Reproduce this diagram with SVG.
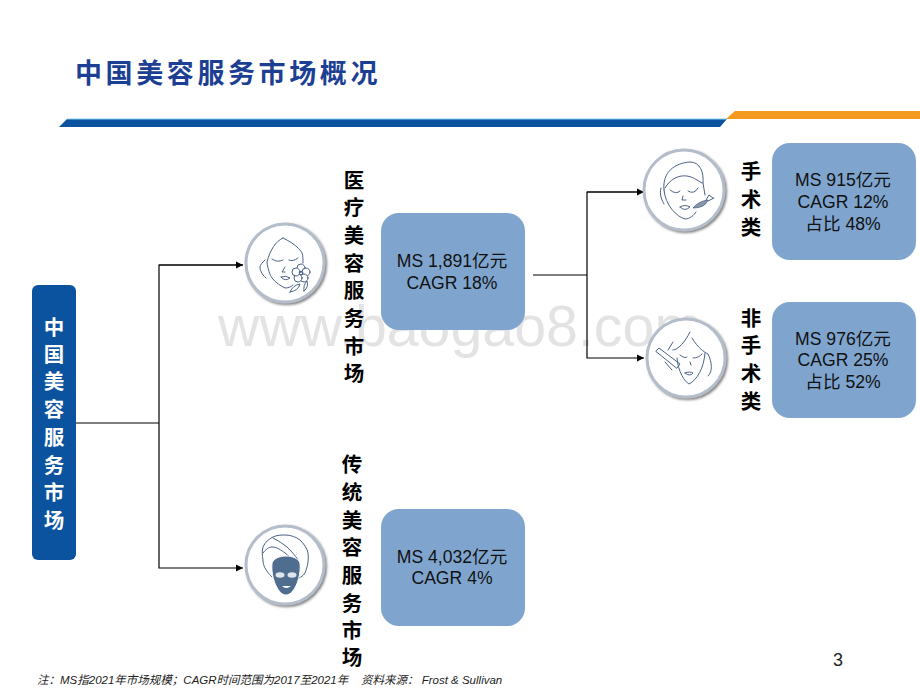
<svg xmlns="http://www.w3.org/2000/svg" width="920" height="690" viewBox="0 0 920 690">
<style>
text{font-family:"Liberation Sans","Noto Sans CJK SC",sans-serif}
.cjk{font-family:"Noto Sans CJK SC",sans-serif;font-weight:700;font-size:20.5px;text-anchor:middle;fill:#000}
.box{fill:#7fa5cf}
.val{font-size:17.6px;text-anchor:middle;fill:#111}
.ring{fill:#fff;stroke:#b4bdca;stroke-width:3;filter:url(#sh)}
.ln{fill:none;stroke:#4b6287;stroke-width:1;stroke-linecap:round;stroke-linejoin:round}
.cn{fill:none;stroke:#000;stroke-width:1.2}
</style>
<defs>
<marker id="ah" markerUnits="userSpaceOnUse" markerWidth="8" markerHeight="8" refX="7" refY="4" orient="auto"><path d="M0 0.5L7 4L0 7.5Z" fill="#000"/></marker>
<filter id="sh" x="-20%" y="-20%" width="140%" height="140%"><feDropShadow dx="1.5" dy="1.5" stdDeviation="1.2" flood-color="#555" flood-opacity=".75"/></filter>
</defs>
<rect width="920" height="690" fill="#fff"/>
<g id="header">
<text x="75" y="83" font-size="27" letter-spacing="3.6" fill="#1c3f94" style="font-family:'Noto Sans CJK SC',sans-serif;font-weight:700">中国美容服务市场概况</text>
<polygon points="59,127 67,119 727,119 720,127" fill="#0b539f"/>
<line x1="67" y1="119" x2="727" y2="119" stroke="#7fd0f0" stroke-width="1"/>
<polygon points="726,119 735,111 920,111 920,119" fill="#f39a1f"/>
</g>
<text id="watermark" x="218" y="346" font-size="57.3" fill="#e3e3e3">www.baogao8.com</text>
<g id="connectors">
<path class="cn" d="M76 423H159"/>
<path class="cn" d="M243 265H159V568H243" marker-end="url(#ah)"/>
<path class="cn" d="M159 265H243" marker-end="url(#ah)"/>
<path class="cn" d="M533 275H587"/>
<path class="cn" d="M644 192H587V358H644" marker-end="url(#ah)"/>
<path class="cn" d="M587 192H644" marker-end="url(#ah)"/>
</g>
<g id="root">
<rect x="32" y="285" width="44" height="275" rx="6" fill="#0b539f"/>
<text class="cjk" style="fill:#fff" x="54 54 54 54 54 54 54 54" y="335 362 389 417 445 473 500 528">中国美容服务市场</text>
</g>
<g id="medical">
<circle class="ring" cx="285" cy="263" r="39"/>
<path class="ln" d="M283 238C276 241 270 250 267 262C268 270 270 275 272 278C276 283 281 286 285 288C288 288 291 287 293 285M283 238C289 241 294 244 297 247C299 249 301 251 302 253C303 256 303 259 303 263M265 260C262 263 260 265 260 267C260 271 262 273 263 275C264 276 265 277 266 278M272 259Q277 263 283 260M289 260Q293 262 298 258M285 267L282 272L285 272M281 277Q286 275 290 278Q285 282 281 277"/>
<g class="ln"><circle cx="301" cy="268" r="4" fill="#fff"/><circle cx="306" cy="272" r="4" fill="#fff"/><circle cx="304" cy="278" r="4" fill="#fff"/><circle cx="298" cy="278" r="4" fill="#fff"/><circle cx="296" cy="272" r="4" fill="#fff"/><circle cx="301" cy="273" r="1.8"/><path d="M290 292Q293 285 300 284Q298 291 290 292ZM304 291Q303 285 307 281Q309 287 304 291Z"/></g>
<text class="cjk" x="354 354 354 354 354 354 354 354" y="188 215 243 271 298 326 354 381">医疗美容服务市场</text>
<rect class="box" x="381" y="213" width="144" height="117" rx="18"/>
<text class="val" x="452" y="267">MS 1,891亿元</text>
<text class="val" x="452" y="289">CAGR 18%</text>
</g>
<g id="traditional">
<circle class="ring" cx="285" cy="565" r="39"/>
<path class="ln" d="M272 577C265 570 263 565 263 560C262 555 262 551 263 547C265 542 269 539 273 537C277 535 281 535 285 535C291 535 296 537 300 540C304 544 307 548 308 553C309 561 307 568 305 573C303 576 301 577 299 578M273 538C279 541 283 544 287 547C291 551 295 555 298 560M263 553C266 549 269 547 272 547C277 547 281 550 285 553C289 556 292 559 295 562"/>
<path d="M272 563C274 558 280 556 286 556C292 556 298 558 300 563C301 573 298 585 292 592C288 596 284 596 280 592C274 585 271 573 272 563Z" fill="#4f6d8f" stroke="#fff" stroke-width="1"/>
<ellipse cx="280" cy="575" rx="4.5" ry="2.8" fill="#dfe6ee"/><ellipse cx="292" cy="575" rx="4.5" ry="2.8" fill="#dfe6ee"/>
<path d="M282 586Q286 590 291 586Z" fill="#fff"/>
<text class="cjk" x="352 352 352 352 352 352 352 352" y="472 500 528 555 583 611 638 665">传统美容服务市场</text>
<rect class="box" x="381" y="509" width="144" height="117" rx="18"/>
<text class="val" x="452" y="563">MS 4,032亿元</text>
<text class="val" x="452" y="584">CAGR 4%</text>
</g>
<g id="surgical">
<circle class="ring" cx="684" cy="190" r="40"/>
<path class="ln" d="M664 190C662 172 675 163 690 162C700 162 704 172 703 183M665 188C672 176 685 172 697 180L702 183M664 190C665 205 677 217 685 219C690 219 694 215 696 212M703 183L705 195M661 188C659 195 662 200 664 204M670 190Q676 195 680 191M688 191Q694 195 698 188M683 196L682 200L686 200M680 207Q685 204 690 207Q685 212 680 207"/>
<path d="M693 208Q699 201 708 200Q705 208 693 208Z" fill="#8a98ad" stroke="#4b6287" stroke-width=".8"/>
<path class="ln" d="M706 200L709 195L713 198M708 201L714 198"/>
<text class="cjk" x="751 751 751" y="179 207 235">手术类</text>
<rect class="box" x="772" y="143" width="144" height="117" rx="18"/>
<text class="val" x="843" y="186">MS 915亿元</text>
<text class="val" x="843" y="208">CAGR 12%</text>
<text class="val" x="843" y="230">占比 48%</text>
</g>
<g id="nonsurgical">
<circle class="ring" cx="686" cy="358" r="39"/>
<path class="ln" d="M677 358C678 372 685 382 689 384C697 380 704 368 705 353M690 332C685 342 678 350 673 350M692 338C698 348 704 352 708 354C712 362 713 372 708 376M680 355Q685 359 687 357M693 358Q699 358 702 354M690 362L691 365M685 373Q690 371 693 373Q690 377 685 373M668 350L673 342M665 362L672 370"/>
<path class="ln" d="M656 351L659 348L680 364L677 368Z" fill="#fff"/>
<text class="cjk" x="751 751 751 751" y="326 353 381 409">非手术类</text>
<rect class="box" x="772" y="302" width="144" height="116" rx="18"/>
<text class="val" x="843" y="345">MS 976亿元</text>
<text class="val" x="843" y="366">CAGR 25%</text>
<text class="val" x="843" y="388">占比 52%</text>
</g>
<text id="page" x="838" y="666" font-size="18" text-anchor="middle" fill="#222">3</text>
<text id="note" x="37" y="684" font-size="11.5" font-style="italic" fill="#222" xml:space="preserve">注：MS指2021年市场规模；CAGR时间范围为2017至2021年    资料来源： Frost &amp; Sullivan</text>
</svg>
